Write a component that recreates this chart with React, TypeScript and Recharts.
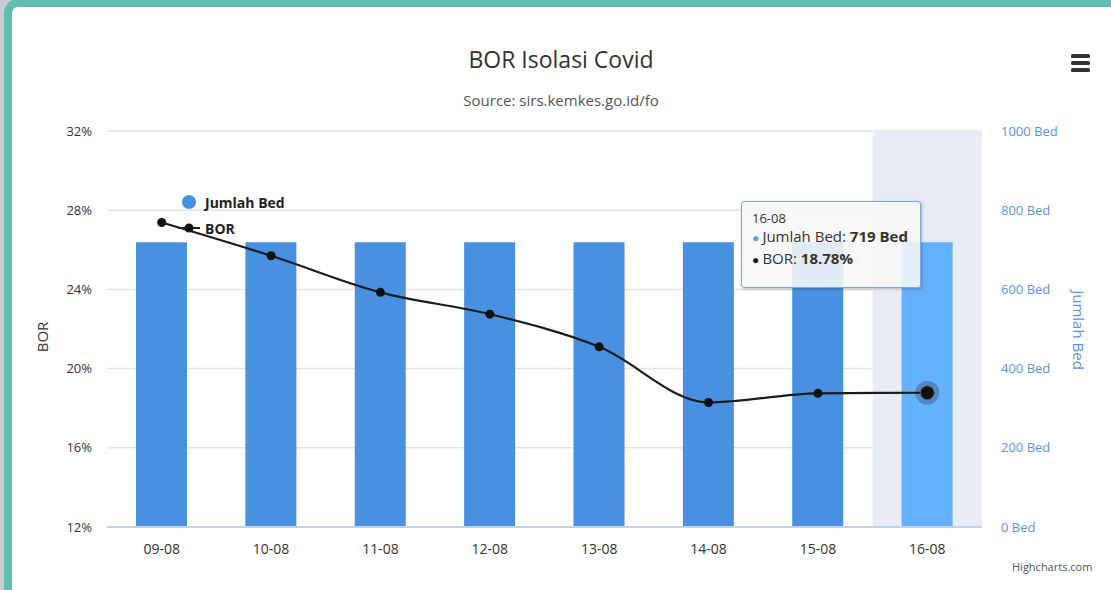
import { ComposedChart, Bar, Line, XAxis, YAxis, CartesianGrid, Tooltip, ReferenceArea, Cell } from "recharts";

const categories = ["09-08", "10-08", "11-08", "12-08", "13-08", "14-08", "15-08", "16-08"];
const jumlahBed = [719, 719, 719, 719, 719, 719, 719, 719];
const bor = [27.38, 25.7, 23.85, 22.75, 21.1, 18.29, 18.75, 18.78];
const borTicks = [12, 16, 20, 24, 28, 32];
const bedTicks = [0, 200, 400, 600, 800, 1000];
const hovered = "16-08";

const data = categories.map((c, i) => ({ name: c, bed: jumlahBed[i], bor: bor[i] }));

const FONT = '"Open Sans", sans-serif';
const BLUE = "#4a90e0";
const BLUE_HOVER = "#66b1ff";

function HoverDot(props: any) {
  const { cx, cy } = props;
  return (
    <g>
      <circle cx={cx} cy={cy} r={12} fill="#000" fillOpacity={0.22} />
      <circle cx={cx} cy={cy} r={7} fill="#111" stroke="#666" strokeWidth={1} />
    </g>
  );
}

function TipBox({ label }: any) {
  const row = data.find((d) => d.name === label) || data[data.length - 1];
  return (
    <div
      style={{
        width: 180,
        height: 87,
        boxSizing: "border-box",
        background: "rgba(247,247,247,0.88)",
        border: "1px solid #7fa8dc",
        borderRadius: 3,
        boxShadow: "1px 1px 3px rgba(0,0,0,0.25)",
        padding: "8px 10px",
        fontFamily: FONT,
        color: "#333",
      }}
    >
      <div style={{ fontSize: 13, lineHeight: "16px" }}>{row.name}</div>
      <div style={{ fontSize: 15, lineHeight: "21px", whiteSpace: "nowrap" }}>
        <span style={{ color: "#5b9be6", fontSize: 12 }}>● </span>Jumlah Bed: <b>{row.bed} Bed</b>
      </div>
      <div style={{ fontSize: 15, lineHeight: "21px", whiteSpace: "nowrap" }}>
        <span style={{ color: "#111", fontSize: 12 }}>● </span>BOR: <b>{row.bor.toFixed(2)}%</b>
      </div>
    </div>
  );
}

export default function App() {
  return (
    <div style={{ position: "absolute", left: 0, top: 0, width: 1111, height: 590, overflow: "hidden", background: "#c9cdd3", fontFamily: FONT }}>
      <div
        style={{
          position: "absolute",
          left: 4,
          top: -1,
          width: 1140,
          height: 640,
          border: "8px solid #5fbdb2",
          borderRadius: 14,
          background: "#fff",
        }}
      />
      <div style={{ position: "absolute", left: 0, top: 0 }}>
        <ComposedChart width={1111} height={590} data={data} margin={{ top: 131, right: 0, bottom: 0, left: 0 }}>
          <ReferenceArea yAxisId="left" x1={hovered} x2={hovered} y1={12} y2={32} fill="#e8ecf4" fillOpacity={1} stroke="none" />
          <CartesianGrid yAxisId="left" vertical={false} stroke="#e3e3e3" strokeWidth={1.5} />
          <XAxis
            dataKey="name"
            height={63}
            tickLine={false}
            tickSize={0}
            tickMargin={17}
            axisLine={{ stroke: "#c4cfe8", strokeWidth: 2 }}
            tick={{ fill: "#333", fontSize: 14, fontFamily: FONT }}
          />
          <YAxis
            yAxisId="left"
            domain={[12, 32]}
            ticks={borTicks}
            width={107}
            tickSize={0}
            tickMargin={15}
            axisLine={false}
            tickLine={false}
            tickFormatter={(v: number) => `${v}%`}
            tick={{ fill: "#333", fontSize: 13, fontFamily: FONT }}
          />
          <YAxis
            yAxisId="right"
            orientation="right"
            domain={[0, 1000]}
            ticks={bedTicks}
            width={129}
            tickSize={0}
            tickMargin={19}
            axisLine={false}
            tickLine={false}
            tickFormatter={(v: number) => `${v} Bed`}
            tick={{ fill: "#5b93e8", fontSize: 13, fontFamily: FONT, textAnchor: "start" }}
          />
          <Tooltip
            defaultIndex={categories.indexOf(hovered)}
            active
            position={{ x: 741, y: 201 }}
            cursor={false}
            isAnimationActive={false}
            content={<TipBox />}
          />
          <Bar yAxisId="right" dataKey="bed" fill={BLUE} barSize={51} activeBar={false} isAnimationActive={false}>
            {data.map((d) => (
              <Cell key={d.name} fill={d.name === hovered ? BLUE_HOVER : BLUE} />
            ))}
          </Bar>
          <Line
            yAxisId="left"
            type="monotone"
            dataKey="bor"
            stroke="#1c1c1c"
            strokeWidth={2.2}
            dot={{ r: 4.5, fill: "#111", stroke: "#111", strokeWidth: 0 }}
            activeDot={<HoverDot />}
            isAnimationActive={false}
          />
        </ComposedChart>
      </div>

      <div style={{ position: "absolute", left: 0, width: 1122, top: 43, textAlign: "center", fontSize: 23, color: "#333" }}>
        BOR Isolasi Covid
      </div>
      <div style={{ position: "absolute", left: 0, width: 1122, top: 90, textAlign: "center", fontSize: 15, color: "#555" }}>
        Source: sirs.kemkes.go.id/fo
      </div>

      <svg style={{ position: "absolute", left: 1070, top: 53 }} width={22} height={22}>
        <rect x={1} y={1} width={19} height={4} rx={1.5} fill="#333" />
        <rect x={1} y={8} width={19} height={4} rx={1.5} fill="#333" />
        <rect x={1} y={15} width={19} height={4} rx={1.5} fill="#333" />
      </svg>

      <div style={{ position: "absolute", left: 170, top: 190, fontSize: 14, fontWeight: 700, color: "#222" }}>
        <div style={{ display: "flex", alignItems: "center", height: 24 }}>
          <svg width={30} height={20}>
            <circle cx={19} cy={10} r={7} fill={BLUE} />
          </svg>
          <span style={{ marginLeft: 5 }}>Jumlah Bed</span>
        </div>
        <div style={{ display: "flex", alignItems: "center", height: 28 }}>
          <svg width={30} height={20}>
            <line x1={8} y1={10} x2={30} y2={10} stroke="#222" strokeWidth={2} />
            <circle cx={19} cy={10} r={4.5} fill="#111" />
          </svg>
          <span style={{ marginLeft: 5 }}>BOR</span>
        </div>
      </div>

      <div style={{ position: "absolute", left: 42, top: 337, transform: "translate(-50%, -50%) rotate(-90deg)", fontSize: 15, color: "#333" }}>
        BOR
      </div>
      <div
        style={{ position: "absolute", left: 1079, top: 330, transform: "translate(-50%, -50%) rotate(90deg)", fontSize: 15, color: "#5b93e8", whiteSpace: "nowrap" }}
      >
        Jumlah Bed
      </div>
      <div style={{ position: "absolute", left: 1012, top: 559, fontSize: 11, color: "#555" }}>Highcharts.com</div>
    </div>
  );
}
